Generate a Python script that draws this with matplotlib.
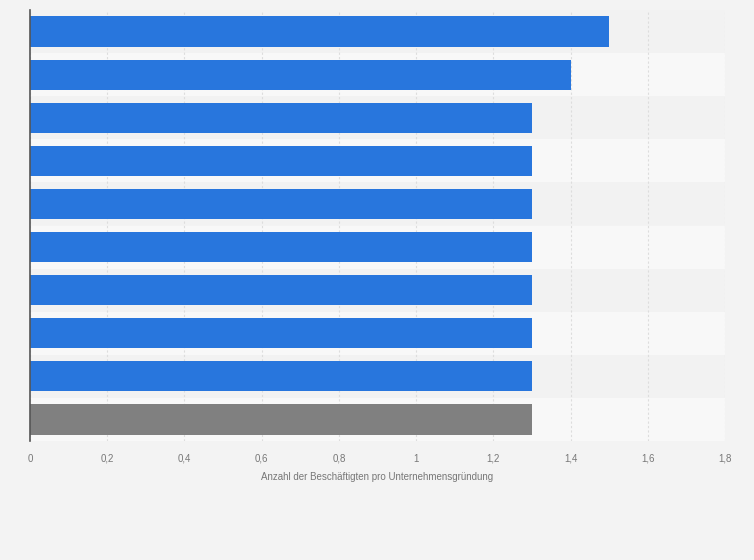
import numpy as np
import matplotlib.pyplot as plt

plt.rcParams['font.family'] = ['Liberation Sans', 'DejaVu Sans']

# Kategorien sind im Bild nicht beschriftet
categories = ['1', '2', '3', '4', '5', '6', '7', '8', '9', '10']
values = [1.5, 1.4, 1.3, 1.3, 1.3, 1.3, 1.3, 1.3, 1.3, 1.3]
bar_colors = ['#2876dd'] * 9 + ['#808080']
xticks = [0, 0.2, 0.4, 0.6, 0.8, 1.0, 1.2, 1.4, 1.6, 1.8]
xticklabels = ['0', '0,2', '0,4', '0,6', '0,8', '1', '1,2', '1,4', '1,6', '1,8']

fig = plt.figure(figsize=(7.54, 5.6), dpi=100, facecolor='#f3f3f3')
ax = fig.add_axes([30 / 754, 1 - 441 / 560, 695 / 754, 431 / 560])
ax.set_facecolor('#f3f3f3')

y = np.arange(len(categories))
for i in y:
    ax.axhspan(i - 0.5, i + 0.5, color='#f2f2f2' if i % 2 == 0 else '#f8f8f8', zorder=0, lw=0)

ax.barh(y, values, height=0.7, color=bar_colors, zorder=3)

ax.set_xlim(0, 1.8)
ax.set_ylim(len(categories) - 0.5, -0.5)
ax.set_xticks(xticks)
ax.set_xticklabels(xticklabels, fontsize=7, color='#777777')
ax.set_yticks([])
ax.tick_params(axis='x', length=0, pad=9)
ax.grid(axis='x', color='#dddddd', linestyle=(0, (2, 2)), linewidth=0.8, zorder=1)

for s in ['top', 'right', 'bottom']:
    ax.spines[s].set_visible(False)
ax.spines['left'].set_color('#555555')
ax.spines['left'].set_linewidth(1.2)
ax.spines['left'].set_zorder(4)

ax.set_xlabel('Anzahl der Beschäftigten pro Unternehmensgründung', fontsize=7,
              color='#777777', labelpad=6)

fig.savefig('out.png', dpi=100, facecolor=fig.get_facecolor())
